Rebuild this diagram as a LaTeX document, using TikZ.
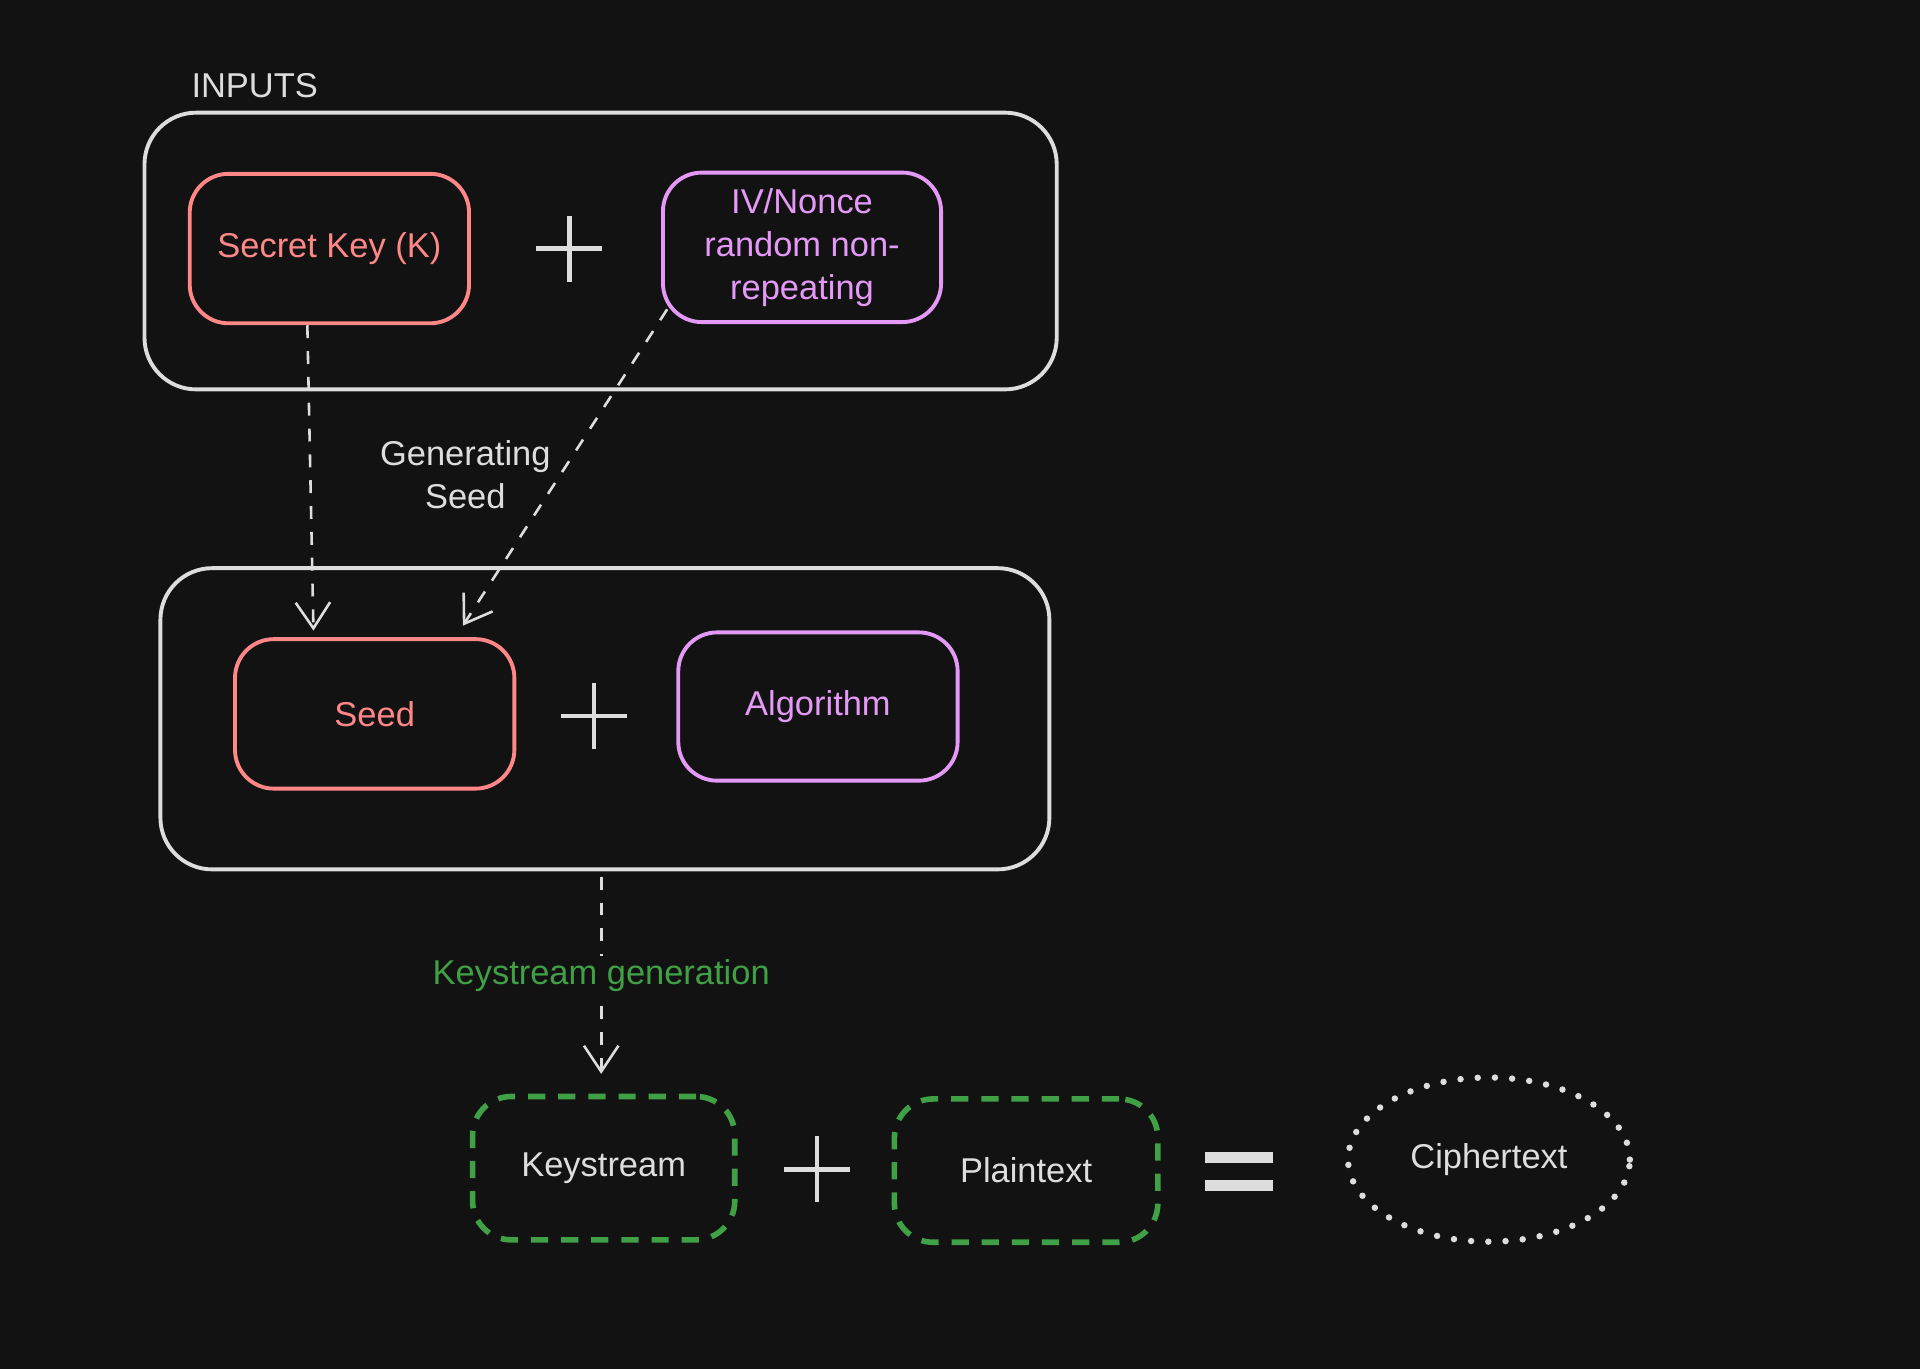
\documentclass[tikz,border=0pt]{standalone}
\usepackage{fontspec}
\setmainfont{Liberation Sans}
\usetikzlibrary{arrows.meta,shapes.geometric}
\definecolor{bg}{HTML}{121212}
\definecolor{fr}{HTML}{DDDDDD}
\definecolor{sal}{HTML}{FF8787}
\definecolor{vio}{HTML}{E599F7}
\definecolor{grn}{HTML}{40A045}
\tikzset{
  every node/.style={font=\fontsize{8}{10}\selectfont},
  outer/.style={draw=fr,line width=0.9pt,rounded corners=12pt},
  salbox/.style={draw=sal,line width=0.9pt,rounded corners=9pt},
  viobox/.style={draw=vio,line width=0.9pt,rounded corners=9pt},
  grnbox/.style={draw=grn,line width=1.3pt,rounded corners=9pt,dash pattern=on 4pt off 3pt},
  conn/.style={draw=fr,line width=0.6pt,dash pattern=on 3pt off 3pt,-{Straight Barb[length=6pt,width=8pt]}},
  sym/.style={draw=fr,line width=1pt}
}
\begin{document}
\begin{tikzpicture}[x=0.01cm,y=-0.01cm]
\fill[bg] (0,0) rectangle (1568,1118);
\useasboundingbox (0,0) rectangle (1568,1118);
\node[text=fr] (inputs) at (208,70) {INPUTS};
\draw[outer] (118,92) rectangle (863,318);
\node[salbox,minimum width=2.28cm,minimum height=1.22cm,text=sal] (key) at (269,203) {Secret Key (K)};
\draw[sym] (438,203) -- (492,203) (465,176) -- (465,230);
\node[viobox,minimum width=2.27cm,minimum height=1.22cm,text=vio,align=center] (iv) at (655,202) {IV/Nonce\\random non-\\repeating};
\draw[outer] (131,464) rectangle (857,710);
\node[salbox,minimum width=2.28cm,minimum height=1.22cm,text=sal] (seed) at (306,583) {Seed};
\draw[sym] (458,585) -- (512,585) (485,558) -- (485,612);
\node[viobox,minimum width=2.28cm,minimum height=1.21cm,text=vio] (alg) at (668,577) {Algorithm};
\coordinate (k1) at (251,266);
\draw[conn] (key.south -| k1) -- (256,515);
\draw[conn] (iv.south west) ++(5,-12) -- (378,511);
\node[text=fr,align=center] (gen) at (380,388) {Generating\\Seed};
\coordinate (b2) at (491,716);
\draw[conn] (b2) -- (491,877);
\node[text=grn,fill=bg,inner sep=1pt] (ksg) at (491,797) {Keystream generation};
\node[grnbox,minimum width=2.14cm,minimum height=1.17cm,text=fr] (ks) at (493,954) {Keystream};
\draw[sym] (640,955) -- (694,955) (667,928) -- (667,982);
\node[grnbox,minimum width=2.15cm,minimum height=1.17cm,text=fr] (pt) at (838,956) {Plaintext};
\draw[fr,line width=2.5pt] (984,945) -- (1040,945) (984,968) -- (1040,968);
\node[ellipse,draw=fr,line width=1.5pt,dash pattern=on 0pt off 4pt,line cap=round,minimum width=2.3cm,minimum height=1.34cm,text=fr] (ct) at (1216,947) {Ciphertext};
\end{tikzpicture}
\end{document}
